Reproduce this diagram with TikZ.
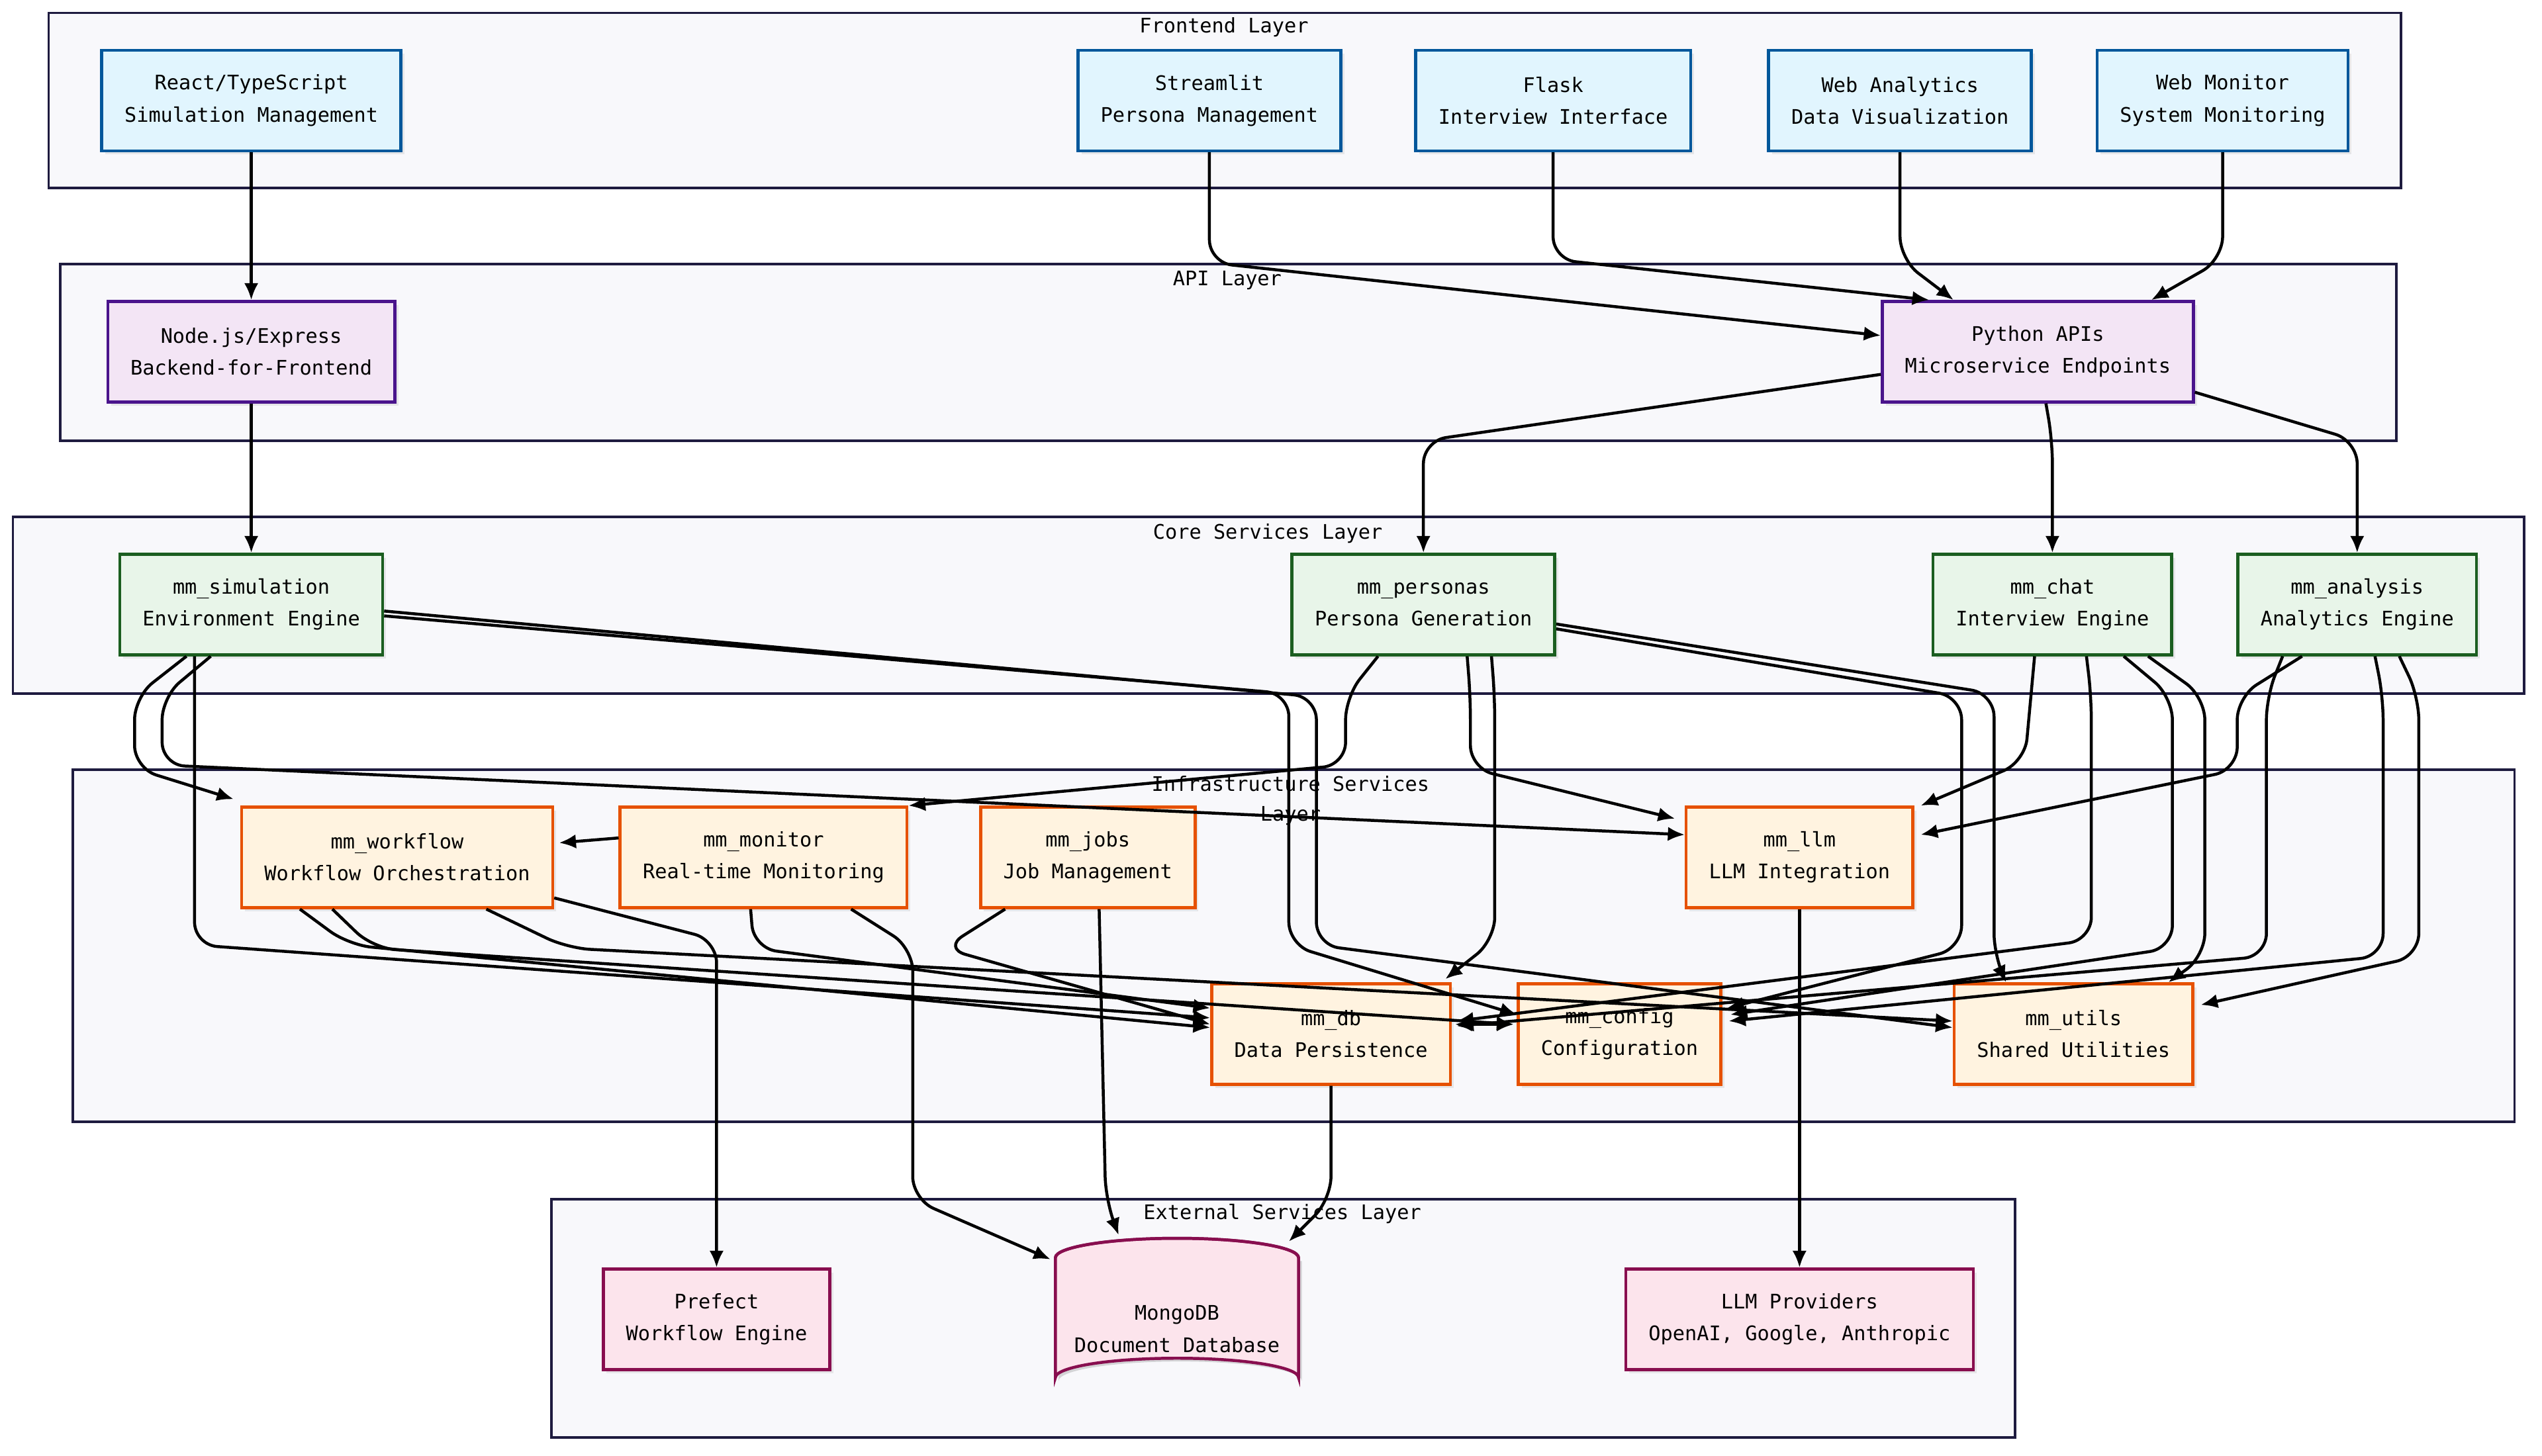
\documentclass[tikz,border=0pt]{standalone}
\usepackage{fontspec}
\setmainfont{DejaVu Sans Mono}
\usetikzlibrary{arrows.meta,calc,shadows}
\definecolor{feFill}{HTML}{E1F5FE}\definecolor{feLine}{HTML}{01579B}
\definecolor{apFill}{HTML}{F3E5F5}\definecolor{apLine}{HTML}{4A148C}
\definecolor{coFill}{HTML}{E8F5E9}\definecolor{coLine}{HTML}{1B5E20}
\definecolor{inFill}{HTML}{FFF3E0}\definecolor{inLine}{HTML}{E65100}
\definecolor{exFill}{HTML}{FCE4EC}\definecolor{exLine}{HTML}{880E4F}
\definecolor{layFill}{HTML}{F8F8FB}\definecolor{layLine}{HTML}{1E1B3F}
\tikzset{
  box/.style={draw, line width=1.3pt, align=center, minimum height=1.55cm,
    inner xsep=0.35cm, font=\fontsize{8.8}{14}\selectfont,
    drop shadow={shadow xshift=1.5pt, shadow yshift=-1.5pt, opacity=0.15}},
  fe/.style={box, fill=feFill, draw=feLine},
  ap/.style={box, fill=apFill, draw=apLine},
  co/.style={box, fill=coFill, draw=coLine},
  inf/.style={box, fill=inFill, draw=inLine},
  ex/.style={box, fill=exFill, draw=exLine},
  layer/.style={draw=layLine, fill=layFill, line width=1.1pt},
  laytxt/.style={font=\fontsize{8.8}{13}\selectfont, align=center},
  link/.style={line width=1.3pt, rounded corners=10pt, -{Latex[length=2.6mm,width=2.2mm]}},
}
\begin{document}
\begin{tikzpicture}[x=0.025cm,y=-0.025cm]
\useasboundingbox (0,0) rectangle (1568,898);
% layers
\draw [layer] (30,8) rectangle (1481,116);
\draw [layer] (37,163) rectangle (1478,272);
\draw [layer] (8,319) rectangle (1557,428);
\draw [layer] (45,475) rectangle (1551,692);
\draw [layer] (340,740) rectangle (1243,887);
\node [laytxt] (lfe) at (755,17) {Frontend Layer};
\node [laytxt] (lap) at (757,173) {API Layer};
\node [laytxt] (lco) at (782,329) {Core Services Layer};
\node [laytxt] (lin) at (796,494) {Infrastructure Services\\Layer};
\node [laytxt] (lex) at (791,749) {External Services Layer};

% frontend
\node [fe] (react) at (155,62) {React/TypeScript\\Simulation Management};
\node [fe] (streamlit) at (746,62) {Streamlit\\Persona Management};
\node [fe] (flask) at (958,62) {Flask\\Interview Interface};
\node [fe] (webana) at (1172,62) {Web Analytics\\Data Visualization};
\node [fe] (webmon) at (1371,62) {Web Monitor\\System Monitoring};
% api
\node [ap] (bff) at (155,217) {Node.js/Express\\Backend-for-Frontend};
\node [ap] (pyapi) at (1257,217) {Python APIs\\Microservice Endpoints};
% core
\node [co] (sim) at (155,373) {mm\_simulation\\Environment Engine};
\node [co] (personas) at (878,373) {mm\_personas\\Persona Generation};
\node [co] (chat) at (1266,373) {mm\_chat\\Interview Engine};
\node [co] (analysis) at (1454,373) {mm\_analysis\\Analytics Engine};
% infrastructure
\node [inf] (workflow) at (245,529) {mm\_workflow\\Workflow Orchestration};
\node [inf] (monitor) at (471,529) {mm\_monitor\\Real-time Monitoring};
\node [inf] (jobs) at (671,529) {mm\_jobs\\Job Management};
\node [inf] (llm) at (1110,529) {mm\_llm\\LLM Integration};
\node [inf] (db) at (821,638) {mm\_db\\Data Persistence};
\node [inf] (config) at (999,638) {mm\_config\\Configuration};
\node [inf] (utils) at (1279,638) {mm\_utils\\Shared Utilities};
% external
\node [ex] (prefect) at (442,814) {Prefect\\Workflow Engine};
\node [ex] (llmprov) at (1110,814) {LLM Providers\\OpenAI, Google, Anthropic};
\fill [black, opacity=0.15] (653,778) -- (653,852) arc (180:360:75 and 12) -- (803,778) -- cycle;
\draw [exLine, fill=exFill, line width=1.3pt] (651,776) -- (651,850) arc (180:360:75 and 12) -- (801,776) arc (0:-180:75 and 12) -- cycle;
\draw [exLine, line width=1.3pt] (651,776) arc (180:360:75 and 12);
\node [font=\fontsize{8.8}{14}\selectfont, align=center] (mongo) at (726,820) {MongoDB\\Document Database};

% frontend -> api
\draw [link] (react) -- (bff);
\draw [link] (streamlit.south) -- (746,162) -- ($(pyapi.west)+(0,-10)$);
\draw [link] (flask.south) -- (958,160) -- ($(pyapi.north)+(-67,0)$);
\draw [link] (webana.south) -- (1172,160) -- ($(pyapi.north)+(-52,0)$);
\draw [link] (webmon.south) -- (1371,160) -- ($(pyapi.north)+(70,0)$);
% api -> core
\draw [link] (bff) -- (sim);
\draw [link] ($(pyapi.west)+(0,14)$) -- (878,272) -- (personas.north);
\draw [link] ($(pyapi.south)+(5,0)$) -- (1266,272) -- (chat.north);
\draw [link] ($(pyapi.east)+(0,25)$) -- (1454,272) -- (analysis.north);
% core -> infrastructure
\draw [link] ($(sim.south)+(-40,0)$) -- (83,430) -- (83,474) -- ($(workflow.north west)+(-4,-4)$);
\draw [link] ($(sim.south)+(-25,0)$) -- (100,430) -- (100,472) -- ($(llm.west)+(0,-14)$);
\draw [link] ($(sim.south)+(-35,0)$) -- (120,430) -- (120,583) -- ($(db.west)+(0,-10)$);
\draw [link] ($(sim.east)+(0,7)$) -- (795,428) -- (795,583) -- ($(config.west)+(0,-12)$);
\draw [link] ($(sim.east)+(0,4)$) -- (812,430) -- (812,583) -- ($(utils.west)+(0,-4)$);
\draw [link] ($(personas.south)+(-28,0)$) -- (830,430) -- (830,472) -- ($(monitor.north east)+(0,0)$);
\draw [link] ($(personas.south)+(27,0)$) -- (907,430) -- (907,474) -- ($(llm.north west)+(-6,8)$);
\draw [link] ($(personas.south)+(42,0)$) -- (922,430) -- (922,580) -- ($(db.north east)+(-4,-2)$);
\draw [link] ($(personas.east)+(0,12)$) -- (1230,428) -- (1230,590) -- ($(utils.north west)+(33,0)$);
\draw [link] ($(personas.east)+(0,15)$) -- (1210,430) -- (1210,585) -- ($(config.east)+(3,-16)$);
\draw [link] ($(chat.south)+(-11,0)$) -- (1249,470) -- ($(llm.north east)+(4,0)$);
\draw [link] ($(chat.south)+(21,0)$) -- (1290,430) -- (1290,580) -- ($(db.east)+(3,-8)$);
\draw [link] ($(chat.south)+(44,0)$) -- (1340,430) -- (1340,585) -- ($(config.east)+(5,-12)$);
\draw [link] ($(chat.south)+(59,0)$) -- (1360,430) -- (1360,590) -- ($(utils.north east)+(-16,0)$);
\draw [link] ($(analysis.south)+(-34,0)$) -- (1380,430) -- (1380,475) -- ($(llm.east)+(4,-14)$);
\draw [link] ($(analysis.south)+(-46,0)$) -- (1398,430) -- (1398,590) -- ($(db.east)+(3,-5)$);
\draw [link] ($(analysis.south)+(11,0)$) -- (1470,430) -- (1470,590) -- ($(config.east)+(4,-8)$);
\draw [link] ($(analysis.south)+(26,0)$) -- (1492,430) -- (1492,590) -- ($(utils.east)+(4,-18)$);
% infrastructure internals
\draw [link] ($(monitor.west)+(0,-12)$) -- ($(workflow.east)+(3,-9)$);
\draw [link] ($(workflow.east)+(0,25)$) -- (442,580) -- (prefect.north);
\draw [link] ($(workflow.south)+(-60,0)$) -- (215,583) -- ($(db.west)+(0,-4)$);
\draw [link] ($(workflow.south)+(-40,0)$) -- (230,585) -- ($(config.west)+(-2,-6)$);
\draw [link] ($(workflow.south)+(55,0)$) -- (350,585) -- ($(utils.west)+(0,-8)$);
\draw [link] ($(monitor.south)+(-8,0)$) -- (465,585) -- ($(db.west)+(0,-16)$);
\draw [link] ($(monitor.south)+(54,0)$) -- (563,585) -- (563,740) -- (648,777);
\draw [link] ($(jobs.south)+(-51,0)$) -- (582,585) -- ($(db.west)+(0,-6)$);
\draw [link] ($(jobs.south)+(7,0)$) -- (682,740) -- (690,762);
\draw [link] (llm) -- (llmprov);
\draw [link, {Latex[length=2.6mm,width=2.2mm]}-{Latex[length=2.6mm,width=2.2mm]}] ($(db.east)+(2,-6)$) -- ($(config.west)+(-2,-6)$);
\draw [link] (db.south) -- (821,740) -- (795,766);
\end{tikzpicture}
\end{document}
